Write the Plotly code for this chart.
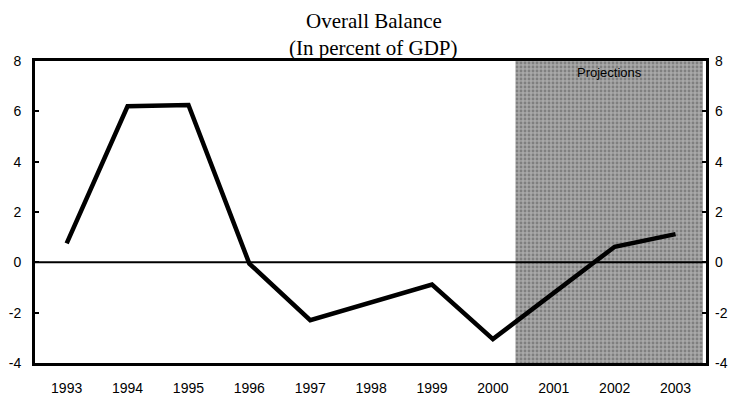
import plotly.graph_objects as go

years = [1993, 1994, 1995, 1996, 1997, 1998, 1999, 2000, 2001, 2002, 2003]
balance = [0.75, 6.2, 6.25, -0.05, -2.3, -1.6, -0.88, -3.05, -1.2, 0.62, 1.12]
year_labels = [str(y) for y in years]
y_ticks = [-4, -2, 0, 2, 4, 6, 8]
y_tick_labels = ["-4", "-2", "0", "2", "4", "6", "8"]
proj_start, proj_end = 2000.37, 2003.45
x_range = [1992.48, 2003.5]
y_range = [-4, 8]

fig = go.Figure()

# Projection shading
fig.add_trace(go.Scatter(
    x=[proj_start, proj_end, proj_end, proj_start, proj_start],
    y=[y_range[0], y_range[0], y_range[1], y_range[1], y_range[0]],
    fill="toself", mode="none", fillcolor="#9c9c9c",
    fillpattern=dict(shape=".", bgcolor="#a8a8a8", fgcolor="#555555", size=4, solidity=0.4),
    hoverinfo="skip", showlegend=False))

# zero line
fig.add_trace(go.Scatter(x=x_range, y=[0, 0], mode="lines",
                         line=dict(color="black", width=2), hoverinfo="skip", showlegend=False))

fig.add_trace(go.Scatter(x=years, y=balance, mode="lines",
                         line=dict(color="black", width=4.5), showlegend=False))

# invisible trace for right axis
fig.add_trace(go.Scatter(x=years, y=balance, yaxis="y2", mode="lines",
                         line=dict(color="rgba(0,0,0,0)"), hoverinfo="skip", showlegend=False))

tickfont = dict(family="Liberation Sans, Arial", size=14, color="black")
titlefont = dict(family="Liberation Serif, Times New Roman", size=21, color="black")

fig.update_layout(
    width=733, height=399,
    margin=dict(l=35, r=27, t=61, b=36, autoexpand=False),
    paper_bgcolor="white", plot_bgcolor="white",
    xaxis=dict(range=x_range, tickmode="array", tickvals=years, ticktext=year_labels,
               showgrid=False, zeroline=False, showline=True, linecolor="black", linewidth=3,
               mirror=True, ticks="", tickfont=tickfont, ticklabelstandoff=10, automargin=False),
    yaxis=dict(range=y_range, tickmode="array", tickvals=y_ticks, ticktext=y_tick_labels,
               showgrid=False, zeroline=False,
               showline=True, linecolor="black", linewidth=3, mirror=True,
               ticks="inside", ticklen=4, tickwidth=2, tickcolor="black",
               tickfont=tickfont, ticklabelstandoff=8, automargin=False),
    yaxis2=dict(range=y_range, tickmode="array", tickvals=y_ticks, ticktext=y_tick_labels,
                overlaying="y", side="right",
                showgrid=False, zeroline=False, showline=False,
                ticks="inside", ticklen=4, tickwidth=2, tickcolor="black",
                tickfont=tickfont, ticklabelstandoff=8, automargin=False),
    annotations=[
        dict(x=0.505, y=1, xref="paper", yref="paper", text="Overall Balance", showarrow=False,
             yanchor="middle", yshift=40, font=titlefont),
        dict(x=0.505, y=1, xref="paper", yref="paper", text="(In percent of GDP)", showarrow=False,
             yanchor="middle", yshift=13, font=titlefont),
        dict(x=(proj_start + proj_end) / 2, y=y_range[1], xref="x", yref="y",
             text="Projections", showarrow=False, yanchor="top", yshift=-2,
             font=dict(family="Liberation Sans, Arial", size=13, color="black"))],
)

fig.write_html("out.html")
